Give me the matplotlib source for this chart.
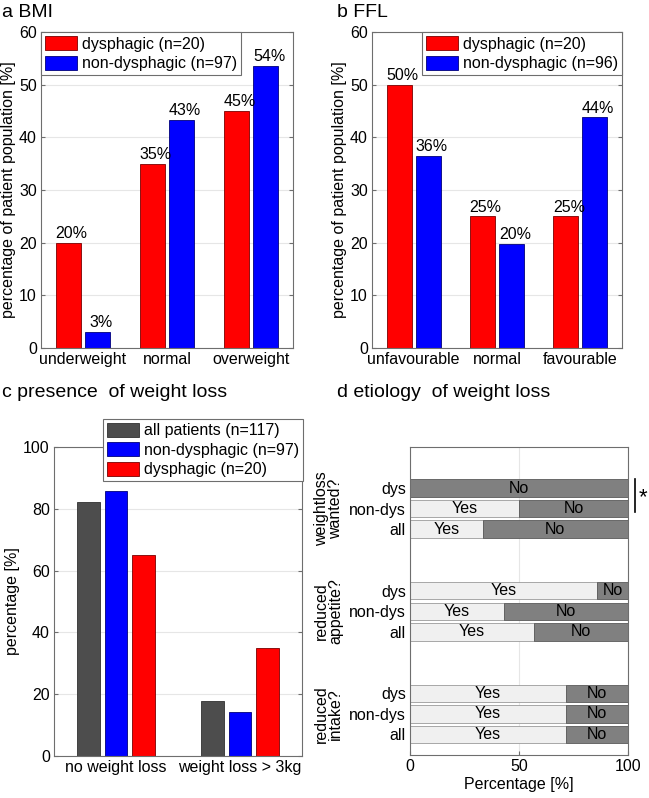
import numpy as np
import matplotlib
matplotlib.use('Agg')
import matplotlib.pyplot as plt

plt.rcParams['font.family'] = ['Liberation Sans', 'DejaVu Sans']
plt.rcParams['font.size'] = 11.5

#%% Data
bmi_cats = ['underweight', 'normal', 'overweight']
bmi_dys = [20, 35, 45]
bmi_nondys = [3.1, 43.3, 53.6]
bmi_dys_lbl = ['20%', '35%', '45%']
bmi_nondys_lbl = ['3%', '43%', '54%']

ffl_cats = ['unfavourable', 'normal', 'favourable']
ffl_dys = [50, 25, 25]
ffl_nondys = [36.5, 19.8, 43.8]
ffl_dys_lbl = ['50%', '25%', '25%']
ffl_nondys_lbl = ['36%', '20%', '44%']

wl_cats = ['no weight loss', 'weight loss > 3kg']
wl_all = [82.1, 17.9]
wl_nondys = [85.6, 14.4]
wl_dys = [65, 35]

etio_groups = ['weightloss\nwanted?', 'reduced\nappetite?', 'reduced\nintake?']
etio_rows = ['dys', 'non-dys', 'all']
# percentage answering "Yes" per group (rows: dys, non-dys, all)
etio_yes = [[0, 50, 33.3],
            [86, 43, 57],
            [71.5, 71.5, 71.5]]

red = '#ff0000'
blue = '#0000ff'
dgray = '#4d4d4d'
spine_col = '#6e6e6e'
grid_col = '#e6e6e6'

W, H = 649, 798
fig = plt.figure(figsize=(W / 100, H / 100), dpi=100)


def px_axes(x0, y0, x1, y1):
    return fig.add_axes([x0 / W, 1 - y1 / H, (x1 - x0) / W, (y1 - y0) / H])


def style(ax):
    for s in ax.spines.values():
        s.set_color(spine_col)
        s.set_linewidth(0.8)
    ax.tick_params(direction='in', length=3, color=spine_col, top=True, right=True,
                   labelsize=11.5, pad=3)
    ax.set_axisbelow(True)


def group_bars(ax, cats, dys, nondys, dys_lbl, nondys_lbl, ylabel):
    x = np.arange(1, len(cats) + 1)
    b1 = ax.bar(x - 0.175, dys, 0.3, color=red, edgecolor='#7a0000', lw=0.6)
    b2 = ax.bar(x + 0.175, nondys, 0.3, color=blue, edgecolor='#00007a', lw=0.6)
    for xi, v, t in zip(x - 0.175, dys, dys_lbl):
        ax.text(xi + 0.04, v + 0.3, t, ha='center', va='bottom', fontsize=11.5)
    for xi, v, t in zip(x + 0.175, nondys, nondys_lbl):
        ax.text(xi + 0.04, v + 0.3, t, ha='center', va='bottom', fontsize=11.5)
    ax.set_xlim(0.5, 3.5)
    ax.set_ylim(0, 60)
    ax.set_yticks(range(0, 61, 10))
    ax.set_xticks(x)
    ax.set_xticklabels(cats)
    ax.yaxis.grid(True, color=grid_col, lw=0.8)
    ax.set_ylabel(ylabel, fontsize=11.5, labelpad=2)
    style(ax)
    ax.tick_params(axis='x', length=0)
    return b1, b2


def add_legend(ax, handles, labels, **kw):
    leg = ax.legend(handles, labels, borderaxespad=0, fancybox=False, framealpha=1,
                    edgecolor=spine_col, handlelength=2.0, handleheight=1.0,
                    handletextpad=0.3, labelspacing=0.25, borderpad=0.25,
                    fontsize=11.5, **kw)
    leg.get_frame().set_linewidth(0.8)
    return leg


#%% a BMI
ax_a = px_axes(41, 32, 293, 348)
b1, b2 = group_bars(ax_a, bmi_cats, bmi_dys, bmi_nondys, bmi_dys_lbl, bmi_nondys_lbl,
                    'percentage of patient population [%]')
add_legend(ax_a, [b1, b2], ['dysphagic (n=20)', 'non-dysphagic (n=97)'], loc='upper left')

#%% b FFL
ax_b = px_axes(372, 32, 622, 348)
b1, b2 = group_bars(ax_b, ffl_cats, ffl_dys, ffl_nondys, ffl_dys_lbl, ffl_nondys_lbl,
                    'percentage of patient population [%]')
add_legend(ax_b, [b1, b2], ['dysphagic (n=20)', 'non-dysphagic (n=96)'], loc='upper right')

#%% c presence of weight loss
ax_c = px_axes(54, 447, 302, 756)
xc = np.arange(1, len(wl_cats) + 1)
c1 = ax_c.bar(xc - 0.222, wl_all, 0.18, color=dgray, edgecolor='#303030', lw=0.6)
c2 = ax_c.bar(xc, wl_nondys, 0.18, color=blue, edgecolor='#00007a', lw=0.6)
c3 = ax_c.bar(xc + 0.222, wl_dys, 0.18, color=red, edgecolor='#7a0000', lw=0.6)
ax_c.set_xlim(0.5, 2.5)
ax_c.set_ylim(0, 100)
ax_c.set_yticks(range(0, 101, 20))
ax_c.set_xticks(xc)
ax_c.set_xticklabels(wl_cats)
ax_c.yaxis.grid(True, color=grid_col, lw=0.8)
ax_c.set_ylabel('percentage [%]', fontsize=11.5, labelpad=2)
style(ax_c)
ax_c.tick_params(axis='x', length=0)
leg = add_legend(ax_c, [c1, c2, c3], ['all patients (n=117)', 'non-dysphagic (n=97)',
                                      'dysphagic (n=20)'],
                 loc='upper right', bbox_to_anchor=(1.005, 1.092))
leg.set_clip_on(False)

#%% d etiology of weight loss
ax_d = px_axes(410, 447, 628, 755)
light = '#f0f0f0'
mid = '#808080'
ypos = []
ylbl = []
for gi, grp in enumerate(etio_groups):
    base = 13 - 5 * gi
    for ri, row in enumerate(etio_rows):
        y = base - ri
        yes = etio_yes[gi][ri]
        no = 100 - yes
        ax_d.barh(y, yes, 0.85, color=light, edgecolor='#9a9a9a', lw=0.6)
        ax_d.barh(y, no, 0.85, left=yes, color=mid, edgecolor='#5a5a5a', lw=0.6)
        if yes > 0:
            ax_d.text(yes / 2, y, 'Yes', ha='center', va='center', fontsize=11.5)
        ax_d.text(yes + no / 2, y, 'No', ha='center', va='center', fontsize=11.5)
        ypos.append(y)
        ylbl.append(row)
    ax_d.text(-0.375, base - 1, grp, rotation=90, ha='center', va='center',
              fontsize=11.5, transform=ax_d.get_yaxis_transform(), linespacing=0.95)
ax_d.set_xlim(0, 100)
ax_d.set_ylim(0, 15)
ax_d.set_xticks([0, 50, 100])
ax_d.set_yticks(ypos)
ax_d.set_yticklabels(ylbl)
ax_d.xaxis.grid(True, color=grid_col, lw=0.8)
ax_d.set_xlabel('Percentage [%]', fontsize=11.5, labelpad=2)
style(ax_d)
ax_d.tick_params(axis='y', length=0)
ax_d.tick_params(axis='x', top=False)
# significance marker
ax_d.plot([1.032, 1.032], [11.85, 13.45], color='black', lw=1.2,
          transform=ax_d.get_yaxis_transform(), clip_on=False)
ax_d.text(1.07, 12.55, '*', ha='center', va='center', fontsize=16,
          transform=ax_d.get_yaxis_transform())

#%% Panel titles
fig.text(2 / W, 1 - 4 / H, 'a BMI', ha='left', va='top', fontsize=14)
fig.text(337 / W, 1 - 4 / H, 'b FFL', ha='left', va='top', fontsize=14)
fig.text(2 / W, 1 - 384 / H, 'c presence  of weight loss', ha='left', va='top', fontsize=14)
fig.text(337 / W, 1 - 384 / H, 'd etiology  of weight loss', ha='left', va='top', fontsize=14)

fig.savefig('out.png', dpi=100)
